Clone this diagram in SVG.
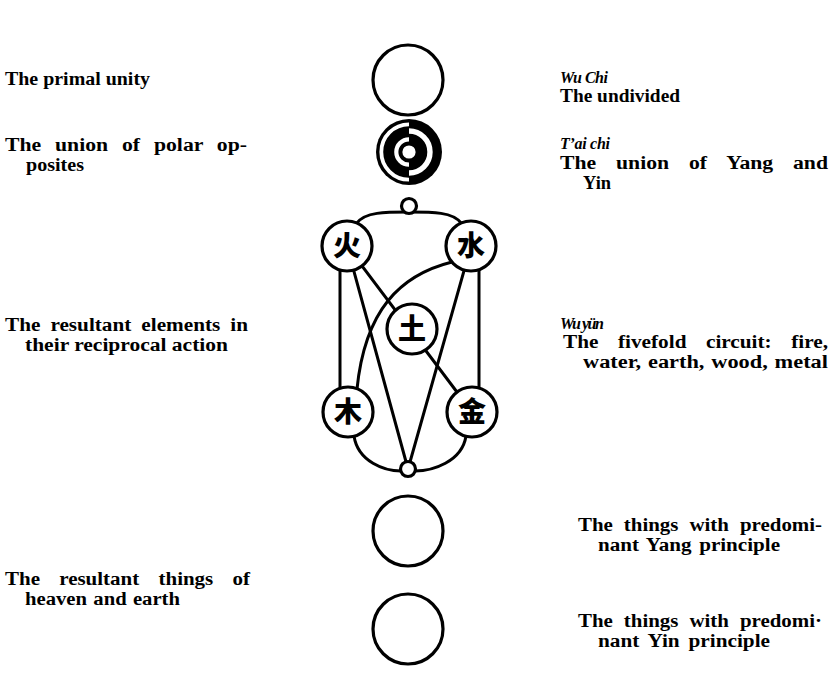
<svg xmlns="http://www.w3.org/2000/svg" width="829" height="677" viewBox="0 0 829 677">
<style>
.t{font-family:"Liberation Serif","Times New Roman",serif;font-size:18px;font-weight:bold;fill:#000}
.i{font-style:italic;font-size:16px}
.c{fill:#fff;stroke:#000;stroke-width:3.2}
.e{fill:#fff;stroke:#000;stroke-width:3.2}
.k{font-family:"Noto Sans CJK SC","Noto Sans CJK JP",sans-serif;font-size:28px;font-weight:900;fill:#000;text-anchor:middle}
.ln{fill:none;stroke:#000;stroke-width:3;stroke-linecap:round}
</style>
<rect width="829" height="677" fill="#fff"/>
<g id="connectors">
<path class="ln" d="M357 223 C365 212 385 212 409 212 C433 212 453 212 461 223"/>
<path class="ln" d="M340 270 L340 388"/>
<path class="ln" d="M479 270 L479 388"/>
<path class="ln" d="M347 246 L408 469"/>
<path class="ln" d="M471 246 L408 469"/>
<path class="ln" d="M347 246 L472 412"/>
<path class="ln" d="M452 262 C400 275 365 310 357 389"/>
<path class="ln" d="M354 436 C358 462 385 471 401 471"/>
<path class="ln" d="M466 436 C462 462 432 471 415 471"/>
</g>
<g id="wuchi"><circle class="c" cx="408" cy="80" r="35"/></g>
<g id="taichi">
<circle cx="409" cy="152" r="33" fill="#000"/>
<path d="M409 124.3 A27.7 27.7 0 0 0 409 179.7" fill="none" stroke="#fff" stroke-width="3.8"/>
<path d="M409 139.3 A12.7 12.7 0 0 0 409 164.7" fill="none" stroke="#fff" stroke-width="4.2"/>
<path d="M409 131 A21 21 0 0 1 409 173" fill="none" stroke="#fff" stroke-width="5.4"/>
<circle cx="409" cy="152" r="6.6" fill="#fff"/>
</g>
<g id="joint-top"><circle class="c" cx="409" cy="206" r="7.5" stroke-width="2.8"/></g>
<g id="fire"><circle class="e" cx="347" cy="246" r="25"/><text class="k" x="347" y="256">火</text></g>
<g id="water"><circle class="e" cx="471" cy="246" r="25"/><text class="k" x="471" y="256">水</text></g>
<g id="earth"><circle class="e" cx="412" cy="329" r="25"/><text class="k" x="412" y="339">土</text></g>
<g id="wood"><circle class="e" cx="348" cy="412" r="25"/><text class="k" x="348" y="422">木</text></g>
<g id="metal"><circle class="e" cx="472" cy="412" r="25"/><text class="k" x="472" y="422">金</text></g>
<g id="joint-bottom"><circle class="c" cx="408" cy="469" r="7.5" stroke-width="2.8"/></g>
<g id="yang"><circle class="c" cx="408" cy="531" r="35"/></g>
<g id="yin"><circle class="c" cx="408" cy="629" r="35"/></g>
<g id="labels-left">
<text class="t" x="5" y="85" textLength="145" lengthAdjust="spacingAndGlyphs">The primal unity</text>
<text class="t" x="5" y="151" word-spacing="7" textLength="242" lengthAdjust="spacingAndGlyphs">The union of polar op-</text>
<text class="t" x="26" y="171" textLength="58" lengthAdjust="spacingAndGlyphs">posites</text>
<text class="t" x="5" y="331" word-spacing="4" textLength="243" lengthAdjust="spacingAndGlyphs">The resultant elements in</text>
<text class="t" x="25" y="351" textLength="203" lengthAdjust="spacingAndGlyphs">their reciprocal action</text>
<text class="t" x="5" y="585" word-spacing="12" textLength="245" lengthAdjust="spacingAndGlyphs">The resultant things of</text>
<text class="t" x="25" y="605" word-spacing="1" textLength="155" lengthAdjust="spacingAndGlyphs">heaven and earth</text>
</g>
<g id="labels-right">
<text class="t i" x="560" y="83" textLength="48">Wu Chi</text>
<text class="t" x="560" y="102" textLength="120" lengthAdjust="spacingAndGlyphs">The undivided</text>
<text class="t i" x="560" y="149" textLength="50">T’ai chi</text>
<text class="t" x="560" y="169" word-spacing="12" textLength="268" lengthAdjust="spacingAndGlyphs">The union of Yang and</text>
<text class="t" x="583" y="189" textLength="28" lengthAdjust="spacingAndGlyphs">Yin</text>
<text class="t i" x="560" y="329" textLength="44">Wu yün</text>
<text class="t" x="563" y="348" word-spacing="12" textLength="265" lengthAdjust="spacingAndGlyphs">The fivefold circuit: fire,</text>
<text class="t" x="583" y="368" word-spacing="1" textLength="245" lengthAdjust="spacingAndGlyphs">water, earth, wood, metal</text>
<text class="t" x="578" y="531" word-spacing="5" textLength="244" lengthAdjust="spacingAndGlyphs">The things with predomi-</text>
<text class="t" x="598" y="551" word-spacing="2" textLength="182" lengthAdjust="spacingAndGlyphs">nant Yang principle</text>
<text class="t" x="578" y="627" word-spacing="5" textLength="244" lengthAdjust="spacingAndGlyphs">The things with predomi·</text>
<text class="t" x="598" y="647" word-spacing="3" textLength="172" lengthAdjust="spacingAndGlyphs">nant Yin principle</text>
</g>
</svg>
